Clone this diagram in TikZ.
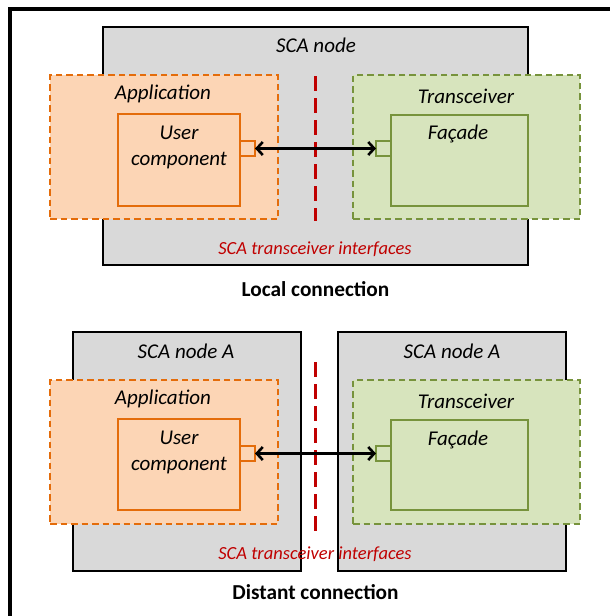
\documentclass[tikz,border=0pt]{standalone}
\usepackage{fontspec}
\setmainfont{Carlito}
\usetikzlibrary{arrows.meta}
\definecolor{nodegray}{HTML}{D9D9D9}
\definecolor{appfill}{HTML}{FCD5B5}
\definecolor{appline}{HTML}{E46C0A}
\definecolor{trxfill}{HTML}{D7E4BD}
\definecolor{trxline}{HTML}{77933C}
\definecolor{ifred}{HTML}{C00000}
\begin{document}
\begin{tikzpicture}[x=1pt,y=-1pt,
  every node/.style={inner sep=0pt,outer sep=0pt},
  scanode/.style={draw=black,line width=1.7pt,fill=nodegray,anchor=north west},
  appbox/.style={draw=appline,line width=2.3pt,fill=appfill,dash pattern=on 6.5pt off 4pt,anchor=north west},
  trxbox/.style={draw=trxline,line width=2.3pt,fill=trxfill,dash pattern=on 6.5pt off 4pt,anchor=north west},
  compbox/.style={draw=appline,line width=2.3pt,anchor=north west},
  facbox/.style={draw=trxline,line width=2.3pt,anchor=north west},
  appport/.style={draw=appline,line width=2.3pt,fill=appfill,anchor=north west,minimum width=15pt,minimum height=15pt},
  trxport/.style={draw=trxline,line width=2.3pt,fill=trxfill,anchor=north west,minimum width=15pt,minimum height=15pt},
  boundary/.style={draw=ifred,line width=2.3pt,dash pattern=on 15pt off 7pt},
  link/.style={draw=black,line width=2.6pt,{Straight Barb[length=6pt,width=13pt]}-{Straight Barb[length=6pt,width=13pt]}},
  lbl/.style={font=\fontsize{21}{25}\selectfont\itshape},
  iflbl/.style={font=\fontsize{18.5}{22}\selectfont\itshape,text=ifred},
  caption/.style={font=\fontsize{21.3}{25}\selectfont\bfseries}]
\useasboundingbox (0,0) rectangle (610,616);
% frame
\draw[line width=4pt] (10,630) -- (10,9.3) -- (620,9.3);

% ---------- local connection ----------
\node[scanode,minimum width=425pt,minimum height=238pt] (sca) at (103,27) {};
\node[appbox,minimum width=228pt,minimum height=144pt] (app1) at (50,75) {};
\node[trxbox,minimum width=227pt,minimum height=144pt] (trx1) at (353,75) {};
\node[compbox,minimum width=122pt,minimum height=92pt] (uc1) at (118,114) {};
\node[facbox,minimum width=137pt,minimum height=91pt] (fac1) at (391,115) {};
\node[appport] (pa1) at (240,141) {};
\node[trxport] (pb1) at (376,141) {};
\coordinate (b1top) at (315.5,76);
\coordinate (b1bot) at (315.5,221);
\draw[boundary] (b1top) -- (b1bot);
\draw[link] (pa1.east) -- (pb1.west);
\node[lbl] (scat) at (316,45) {SCA node};
\node[lbl] (app1t) at (163,94) {Application};
\node[lbl] (trx1t) at (466,96) {Transceiver};
\node[lbl,align=center] (uc1t) at (179,147) {User\\[1pt]component};
\node[lbl] (fac1t) at (458,134) {Façade};
\node[iflbl] (if1) at (315,249) {SCA transceiver interfaces};
\node[caption] (cap1) at (315.5,289) {Local connection};

% ---------- distant connection ----------
\node[scanode,minimum width=228pt,minimum height=239pt] (scaa) at (73,332) {};
\node[scanode,minimum width=228pt,minimum height=239pt] (scab) at (338,332) {};
\node[appbox,minimum width=228pt,minimum height=144pt] (app2) at (50,380) {};
\node[trxbox,minimum width=227pt,minimum height=144pt] (trx2) at (353,380) {};
\node[compbox,minimum width=122pt,minimum height=91pt] (uc2) at (118,419) {};
\node[facbox,minimum width=137pt,minimum height=90pt] (fac2) at (391,420) {};
\node[appport] (pa2) at (240,446) {};
\node[trxport] (pb2) at (376,446) {};
\coordinate (b2top) at (315.5,362);
\coordinate (b2bot) at (315.5,533);
\draw[boundary] (b2top) -- (b2bot);
\draw[link] (pa2.east) -- (pb2.west);
\node[lbl] (scaat) at (186,351) {SCA node A};
\node[lbl] (scabt) at (452,351) {SCA node A};
\node[lbl] (app2t) at (163,399) {Application};
\node[lbl] (trx2t) at (466,401) {Transceiver};
\node[lbl,align=center] (uc2t) at (179,452) {User\\[1pt]component};
\node[lbl] (fac2t) at (458,440) {Façade};
\node[iflbl] (if2) at (315,554) {SCA transceiver interfaces};
\node[caption] (cap2) at (315.5,592) {Distant connection};
\end{tikzpicture}
\end{document}
